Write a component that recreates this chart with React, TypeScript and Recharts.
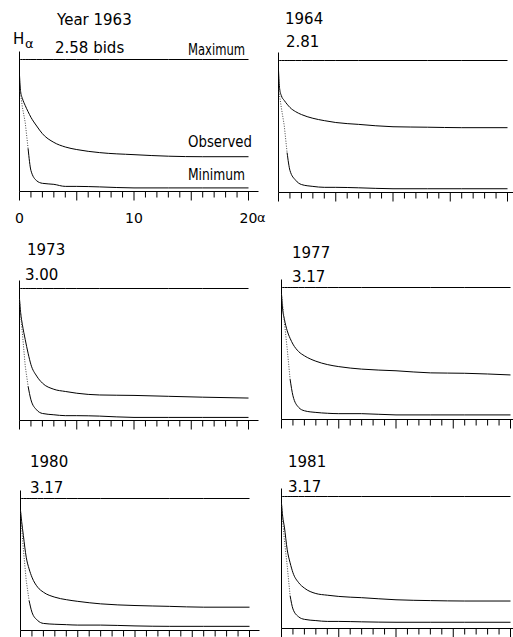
import React from "react";
import { LineChart, Line, XAxis, YAxis, ReferenceLine } from "recharts";

const ALPHA = [0, 0.1, 0.25, 0.5, 0.75, 1, 1.5, 2, 3, 4, 5, 7, 10, 13, 16, 20];
const TICKS = [0, 1, 2, 3, 4, 5, 6, 7, 8, 9, 10, 11, 12, 13, 14, 15, 16, 17, 18, 19, 20];
const TICK_LABELS = [0, 10, 20];

const YEARS = ["Year 1963", "1964", "1973", "1977", "1980", "1981"];
const BIT_LABELS = ["2.58 bids", "2.81", "3.00", "3.17", "3.17", "3.17"];
const MAX_BITS = [2.58, 2.81, 3.0, 3.17, 3.17, 3.17];

const OBS_1963 = [2.27, 1.95, 1.82, 1.68, 1.56, 1.45, 1.28, 1.13, 0.96, 0.87, 0.82, 0.76, 0.72, 0.69, 0.68, 0.68];
const MIN_1963 = [1.97, 1.9, 1.65, 1.35, 0.84, 0.41, 0.21, 0.16, 0.14, 0.1, 0.1, 0.09, 0.07, 0.07, 0.07, 0.07];
const OBS_1964 = [2.6, 2.21, 2.06, 1.96, 1.88, 1.81, 1.72, 1.66, 1.58, 1.53, 1.49, 1.45, 1.4, 1.39, 1.38, 1.38];
const MIN_1964 = [2.21, 2.05, 1.8, 1.43, 0.85, 0.47, 0.26, 0.17, 0.13, 0.11, 0.11, 0.1, 0.08, 0.08, 0.08, 0.08];
const OBS_1973 = [2.76, 2.45, 2.18, 1.84, 1.53, 1.27, 1.01, 0.85, 0.71, 0.66, 0.62, 0.58, 0.57, 0.55, 0.53, 0.51];
const MIN_1973 = [2.76, 2.4, 1.99, 1.24, 0.78, 0.47, 0.24, 0.16, 0.13, 0.11, 0.11, 0.1, 0.07, 0.07, 0.07, 0.07];
const OBS_1977 = [3.01, 2.65, 2.41, 2.13, 1.95, 1.81, 1.63, 1.53, 1.4, 1.32, 1.27, 1.21, 1.17, 1.12, 1.11, 1.07];
const MIN_1977 = [3.01, 2.75, 2.35, 1.69, 0.97, 0.57, 0.29, 0.21, 0.17, 0.15, 0.14, 0.14, 0.11, 0.11, 0.11, 0.11];
const OBS_1980 = [2.88, 2.62, 2.28, 1.76, 1.48, 1.28, 1.04, 0.92, 0.8, 0.74, 0.7, 0.64, 0.6, 0.58, 0.56, 0.56];
const MIN_1980 = [2.88, 2.5, 1.95, 1.2, 0.72, 0.44, 0.24, 0.17, 0.15, 0.14, 0.13, 0.13, 0.11, 0.1, 0.1, 0.1];
const OBS_1981 = [3.0, 2.7, 2.44, 1.89, 1.58, 1.34, 1.1, 0.97, 0.84, 0.8, 0.77, 0.74, 0.69, 0.67, 0.66, 0.66];
const MIN_1981 = [3.0, 2.6, 2.13, 1.5, 0.79, 0.47, 0.28, 0.22, 0.19, 0.17, 0.17, 0.16, 0.15, 0.15, 0.15, 0.15];

const OBSERVED = [OBS_1963, OBS_1964, OBS_1973, OBS_1977, OBS_1980, OBS_1981];
const MINIMUM = [MIN_1963, MIN_1964, MIN_1973, MIN_1977, MIN_1980, MIN_1981];

// the steep start of the minimum curve is printed dotted
const DOT_END = 0.75;

// plot area top-left of each panel (page px)
const LAYOUT = [
  { x: 19, y: 51 },
  { x: 278, y: 52 },
  { x: 19, y: 280 },
  { x: 281, y: 279 },
  { x: 20, y: 490 },
  { x: 281, y: 488 },
];

const PLOT_W = 239;
const PLOT_H = 140;
const X_END = (20 * PLOT_W) / 229; // 20 units span 229px, axis runs a bit past
const Y_HEAD = PLOT_H / 132; // max line sits 8px under the top of the y axis
const M = { top: 2.5, right: 2, bottom: 2, left: 4.5 };

const NUM_FONT = "'DejaVu Sans', sans-serif";
const WORD_FONT = "'DejaVu Sans Condensed', sans-serif";

function buildRows(i: number) {
  return ALPHA.map((a, k) => ({
    alpha: a,
    maximum: MAX_BITS[i],
    observed: OBSERVED[i][k],
    minDotted: a <= DOT_END ? MINIMUM[i][k] : null,
    minSolid: a >= DOT_END ? MINIMUM[i][k] : null,
  }));
}

const AlphaTick = (props: any) => {
  const { x, y, payload, labeled } = props;
  const v = payload.value;
  const major = v % 5 === 0;
  return (
    <g>
      <line x1={x} x2={x} y1={y} y2={y + (major ? 9 : 6)} stroke="#000" strokeWidth={1} />
      {labeled && TICK_LABELS.includes(v) && (
        <text x={x} y={y + 31} textAnchor="middle" fontFamily={NUM_FONT} fontSize={14} fill="#000">
          {v}
        </text>
      )}
    </g>
  );
};

function Panel({ idx }: { idx: number }) {
  const pos = LAYOUT[idx];
  const labeled = idx === 0;
  const axisH = labeled ? 36 : 12;
  const rows = buildRows(idx);
  return (
    <div style={{ position: "absolute", left: pos.x - M.left, top: pos.y - M.top }}>
      <LineChart
        width={M.left + PLOT_W + M.right}
        height={M.top + PLOT_H + axisH + M.bottom}
        data={rows}
        margin={M}
      >
        <XAxis
          dataKey="alpha"
          type="number"
          domain={[0, X_END]}
          ticks={TICKS}
          interval={0}
          allowDataOverflow
          height={axisH}
          tickSize={0}
          tickMargin={0}
          tickLine={false}
          axisLine={{ stroke: "#000", strokeWidth: 1 }}
          tick={(p: any) => <AlphaTick {...p} labeled={labeled} />}
        />
        <YAxis type="number" domain={[0, MAX_BITS[idx] * Y_HEAD]} allowDataOverflow hide />
        <ReferenceLine x={0} stroke="#000" strokeWidth={1} />
        <Line dataKey="maximum" type="linear" stroke="#000" strokeWidth={1} dot={false} isAnimationActive={false} />
        <Line dataKey="observed" type="monotone" stroke="#000" strokeWidth={1} dot={false} isAnimationActive={false} />
        <Line
          dataKey="minDotted"
          type="linear"
          stroke="#444"
          strokeWidth={1}
          strokeDasharray="1 1.5"
          dot={false}
          isAnimationActive={false}
        />
        <Line dataKey="minSolid" type="monotone" stroke="#000" strokeWidth={1} dot={false} isAnimationActive={false} />
      </LineChart>
    </div>
  );
}

// title positions (x, baseline) for each panel
const TITLE_POS = [
  { x: 57, y: 25, bx: 55, by: 53 },
  { x: 285, y: 24, bx: 286, by: 47 },
  { x: 27, y: 255, bx: 25, by: 280 },
  { x: 292, y: 258, bx: 292, by: 282 },
  { x: 30, y: 467, bx: 30, by: 493 },
  { x: 288, y: 467, bx: 288, by: 492 },
];

export default function App() {
  return (
    <div style={{ position: "absolute", left: 0, top: 0, width: 513, height: 637, background: "#fff", overflow: "hidden" }}>
      {YEARS.map((_, i) => (
        <Panel key={i} idx={i} />
      ))}
      <svg width={513} height={637} style={{ position: "absolute", left: 0, top: 0, pointerEvents: "none" }}>
        {YEARS.map((year, i) => (
          <g key={year + i} fontFamily={NUM_FONT} fontSize={15} fill="#000">
            <text x={TITLE_POS[i].x} y={TITLE_POS[i].y}>{year}</text>
            <text x={TITLE_POS[i].bx} y={TITLE_POS[i].by}>{BIT_LABELS[i]}</text>
          </g>
        ))}
        <text x={13} y={44} fontFamily={NUM_FONT} fontSize={15} fill="#000">H</text>
        <text x={25} y={48} fontFamily={NUM_FONT} fontSize={13} fill="#000">α</text>
        <text x={257} y={222} fontFamily={NUM_FONT} fontSize={13} fill="#000">α</text>
        <g fontFamily={WORD_FONT} fontSize={16} fill="#000">
          <text x={188} y={55} textLength={57} lengthAdjust="spacingAndGlyphs">Maximum</text>
          <text x={188} y={147} textLength={64} lengthAdjust="spacingAndGlyphs">Observed</text>
          <text x={188} y={180} textLength={57} lengthAdjust="spacingAndGlyphs">Minimum</text>
        </g>
      </svg>
    </div>
  );
}
